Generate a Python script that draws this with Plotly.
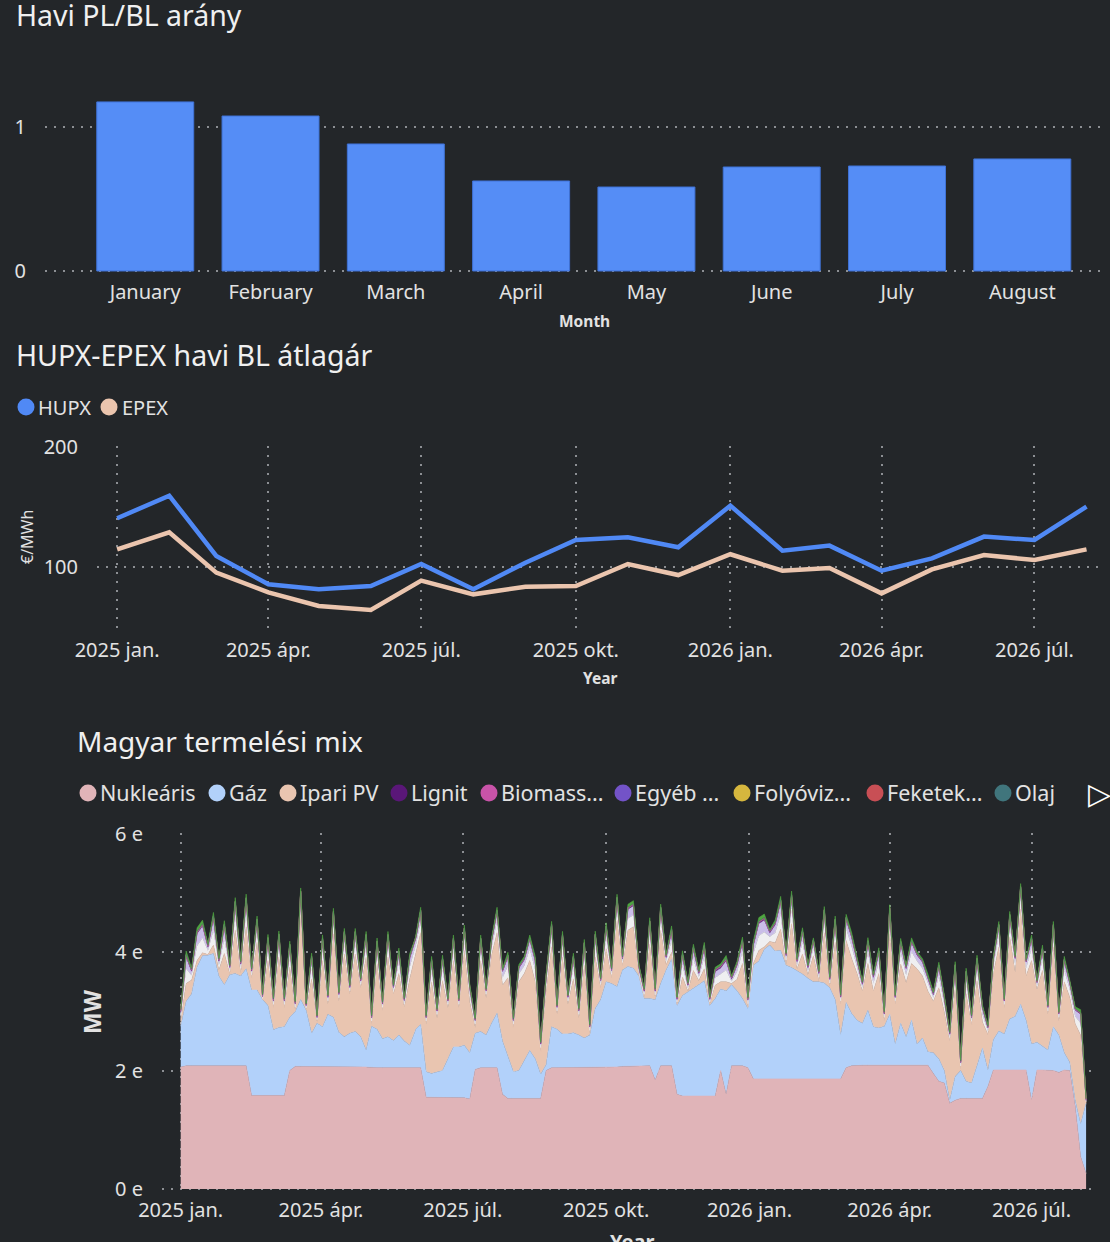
import pandas as pd
import plotly.graph_objects as go

W, H = 1110, 1242
BG = "#232629"
TXT = "#E2E2E2"
GRID = "#8C8F93"
FONT = "Noto Sans"

# --- Havi PL/BL arány ---
months = ["January", "February", "March", "April", "May", "June", "July", "August"]
pl_bl = [1.174, 1.076, 0.882, 0.625, 0.583, 0.722, 0.729, 0.778]

# --- HUPX-EPEX havi BL átlagár (EUR/MWh) ---
price_months = pd.date_range("2025-01-01", periods=20, freq="MS")
hupx = [140.6, 159.4, 109.2, 85.6, 81.4, 84.2, 102.5, 81.4, 103.6, 122.5,
        124.7, 116.4, 151.1, 113.6, 117.8, 96.9, 107.2, 125.3, 122.5, 150.3]
epex = [114.7, 128.9, 95.3, 78.9, 67.5, 64.2, 88.6, 77.2, 83.6, 84.2,
        102.5, 93.3, 110.6, 96.9, 99.2, 78.0, 98.0, 110.0, 105.8, 114.7]

tick_dates = ["2025-01-01", "2025-04-01", "2025-07-01", "2025-10-01",
              "2026-01-01", "2026-04-01", "2026-07-01"]
tick_text = ["2025 jan.", "2025 ápr.", "2025 júl.", "2025 okt.",
             "2026 jan.", "2026 ápr.", "2026 júl."]

# --- Magyar termelési mix (MW), read twice a week ---
mix_days = pd.date_range("2025-01-01", periods=167, freq="84h")
nuklearis = [
    2060, 2080, 2080, 2080, 2080, 2080, 2080, 2080, 2080, 2080,
    2080, 2080, 2080, 1580, 1580, 1580, 1580, 1580, 1580, 1580,
    2000, 2070, 2070, 2070, 2070, 2070, 2070, 2070, 2070, 2060,
    2060, 2060, 2060, 2060, 2060, 2050, 2050, 2050, 2050, 2050,
    2050, 2050, 2050, 2050, 2050, 1550, 1550, 1550, 1550, 1550,
    1540, 1540, 1540, 1520, 2020, 2050, 2050, 2050, 2050, 1600,
    1530, 1530, 1530, 1530, 1530, 1530, 1530, 2000, 2050, 2050,
    2050, 2050, 2050, 2050, 2050, 2050, 2050, 2060, 2060, 2060,
    2060, 2070, 2070, 2080, 2080, 2080, 2080, 1840, 2080, 2080,
    2080, 1600, 1570, 1570, 1570, 1570, 1570, 1570, 1570, 2000,
    1600, 2080, 2080, 2080, 2050, 1860, 1860, 1860, 1860, 1860,
    1860, 1860, 1860, 1860, 1860, 1860, 1860, 1860, 1860, 1860,
    1860, 1860, 2050, 2080, 2090, 2090, 2090, 2090, 2090, 2090,
    2090, 2090, 2090, 2090, 2090, 2090, 2090, 2090, 1950, 1820,
    1790, 1450, 1500, 1530, 1530, 1530, 1530, 1530, 1730, 2010,
    2010, 2010, 2010, 2010, 2010, 2010, 1500, 2010, 2010, 2010,
    2000, 1970, 2010, 2000, 1400, 550, 260]
gaz = [
    690, 1090, 1220, 1670, 1860, 1870, 1900, 1520, 1370, 1540,
    1560, 1520, 1640, 1780, 1780, 1620, 1520, 1110, 1150, 1160,
    900, 930, 1130, 950, 560, 730, 670, 880, 830, 590,
    510, 570, 600, 510, 290, 700, 650, 490, 520, 460,
    550, 450, 380, 640, 730, 430, 400, 430, 450, 650,
    860, 860, 890, 780, 610, 610, 550, 750, 920, 900,
    690, 450, 470, 640, 810, 670, 410, 100, 690, 650,
    570, 570, 590, 550, 500, 550, 1000, 1140, 1440, 1410,
    1360, 1630, 1690, 1650, 1520, 1140, 1140, 1360, 1390, 1620,
    1800, 1500, 1700, 1760, 1810, 1880, 1950, 1530, 1650, 1380,
    1750, 1370, 1270, 1140, 1000, 1920, 1990, 2190, 2260, 2160,
    2170, 1920, 1880, 1830, 1770, 1700, 1640, 1640, 1620, 1540,
    1340, 740, 1100, 890, 760, 710, 930, 650, 630, 660,
    860, 360, 710, 480, 760, 360, 460, 230, 350, 380,
    210, 50, 400, 470, 290, 260, 550, 850, 280, 510,
    660, 610, 860, 910, 1110, 840, 950, 470, 400, 340,
    740, 630, 290, 140, 100, 550, 1190]
ipari_pv = [
    90, 300, 230, 110, 50, 10, 140, 100, 530, 10,
    730, 50, 710, 200, 810, 0, 760, 370, 1190, 320,
    850, 10, 1450, 10, 920, 20, 1120, 170, 1410, 520,
    1400, 660, 1310, 830, 1570, 30, 1110, 470, 1350, 780,
    1040, 570, 1120, 1250, 1550, 800, 1550, 910, 1520, 860,
    1460, 660, 1600, 860, 100, 1200, 630, 1150, 1360, 940,
    1350, 750, 1500, 1470, 1520, 1300, 390, 1240, 1350, 250,
    1300, 500, 910, 290, 1230, 20, 870, 200, 560, 100,
    1120, 70, 610, 700, 20, 10, 920, 20, 900, 90,
    120, 20, 310, 10, 310, 70, 200, 20, 220, 120,
    150, 20, 190, 590, 20, 30, 180, 40, 60, 140,
    360, 10, 740, 30, 340, 60, 440, 20, 850, 20,
    970, 520, 1050, 930, 790, 540, 790, 600, 920, 90,
    1420, 670, 1000, 920, 960, 1270, 1050, 1020, 870, 1200,
    990, 1000, 1510, 20, 1480, 990, 1440, 440, 600, 1120,
    1420, 440, 1390, 740, 1610, 750, 1410, 890, 1280, 600,
    1350, 240, 1200, 1100, 1290, 1500, 0]
# thin layers on top whose legend entries are scrolled out of view
szel = [
    80, 250, 80, 250, 250, 70, 250, 80, 250, 60,
    250, 80, 250, 60, 200, 20, 200, 60, 200, 60,
    200, 60, 200, 30, 200, 40, 200, 60, 200, 60,
    200, 60, 200, 60, 200, 60, 200, 60, 200, 60,
    200, 60, 200, 130, 200, 60, 200, 60, 200, 60,
    200, 60, 200, 130, 60, 200, 60, 130, 200, 130,
    200, 60, 130, 130, 200, 200, 60, 130, 200, 60,
    200, 60, 200, 60, 200, 60, 200, 60, 200, 60,
    200, 60, 200, 200, 60, 60, 200, 60, 200, 60,
    200, 40, 200, 50, 200, 60, 200, 40, 130, 130,
    200, 40, 130, 200, 60, 170, 250, 250, 80, 170,
    250, 80, 250, 60, 200, 60, 130, 60, 200, 60,
    200, 60, 200, 200, 130, 60, 200, 130, 200, 60,
    200, 60, 200, 130, 200, 130, 130, 130, 60, 200,
    130, 60, 200, 60, 200, 60, 200, 130, 60, 130,
    200, 60, 200, 130, 200, 130, 200, 60, 200, 60,
    200, 60, 200, 130, 130, 200, 20]
lakossagi_pv = [
    60, 200, 60, 200, 200, 50, 200, 60, 200, 40,
    200, 60, 200, 50, 150, 20, 150, 50, 150, 50,
    150, 50, 150, 30, 150, 30, 150, 50, 150, 50,
    150, 50, 150, 50, 150, 50, 150, 50, 150, 50,
    150, 50, 150, 100, 150, 50, 150, 50, 150, 50,
    150, 50, 150, 100, 50, 150, 50, 100, 150, 100,
    150, 50, 100, 100, 150, 150, 50, 100, 150, 50,
    150, 50, 150, 50, 150, 50, 150, 50, 150, 50,
    150, 50, 150, 150, 50, 40, 150, 50, 150, 50,
    150, 30, 150, 40, 150, 50, 150, 30, 100, 100,
    150, 30, 100, 150, 50, 130, 200, 200, 60, 130,
    200, 60, 200, 50, 150, 50, 100, 50, 150, 50,
    150, 50, 150, 150, 100, 50, 150, 100, 150, 50,
    150, 50, 150, 100, 150, 100, 100, 100, 50, 150,
    100, 50, 150, 50, 150, 50, 150, 100, 50, 100,
    150, 50, 150, 100, 150, 100, 150, 50, 150, 50,
    150, 50, 150, 100, 100, 150, 20]
hulladek = [
    20, 60, 20, 60, 60, 20, 60, 20, 60, 20,
    60, 20, 60, 20, 50, 10, 50, 20, 50, 20,
    50, 20, 50, 10, 50, 10, 50, 20, 50, 20,
    50, 20, 50, 20, 50, 20, 50, 20, 50, 20,
    50, 20, 50, 30, 50, 20, 50, 20, 50, 20,
    50, 20, 50, 30, 20, 50, 20, 30, 50, 30,
    50, 20, 30, 30, 50, 50, 20, 30, 50, 20,
    50, 20, 50, 20, 50, 20, 50, 20, 50, 20,
    50, 20, 50, 50, 20, 20, 50, 20, 50, 20,
    50, 10, 50, 20, 50, 20, 50, 10, 30, 30,
    50, 10, 30, 50, 20, 40, 60, 60, 20, 40,
    60, 20, 60, 20, 50, 20, 30, 20, 50, 20,
    50, 20, 50, 50, 30, 20, 50, 30, 50, 20,
    50, 20, 50, 30, 50, 30, 30, 30, 20, 50,
    30, 20, 50, 20, 50, 20, 50, 30, 20, 30,
    50, 20, 50, 30, 50, 30, 50, 20, 50, 20,
    50, 20, 50, 30, 30, 50, 10]
# small sources, monthly
mix_months = pd.date_range("2025-01-01", periods=20, freq="MS")
lignit = [12, 14, 12, 8, 6, 6, 8, 8, 10, 12, 14, 16, 16, 14, 12, 8, 6, 6, 8, 8]
biomassza = [10, 10, 9, 8, 8, 7, 7, 7, 8, 9, 10, 10, 10, 10, 9, 8, 8, 7, 7, 7]
egyeb = [8, 8, 8, 7, 7, 7, 7, 7, 7, 8, 8, 8, 8, 8, 8, 7, 7, 7, 7, 7]
folyoviz = [5, 5, 6, 7, 7, 6, 5, 4, 4, 4, 5, 5, 5, 5, 6, 7, 7, 6, 5, 4]
feketekoszen = [4, 4, 3, 2, 2, 2, 2, 2, 2, 3, 4, 4, 4, 4, 3, 2, 2, 2, 2, 2]
olaj = [2, 2, 2, 1, 1, 1, 1, 1, 1, 2, 2, 2, 2, 2, 2, 1, 1, 1, 1, 1]

for s in (nuklearis, gaz, ipari_pv, szel, lakossagi_pv, hulladek):
    assert len(s) == len(mix_days), len(s)


def py(y):
    return 1 - y / H


fig = go.Figure()

fig.add_trace(go.Bar(x=months, y=pl_bl, marker=dict(color="#558DF6", line=dict(color="#3F72D6", width=1)),
                     xaxis="x", yaxis="y", showlegend=False))

fig.add_trace(go.Scatter(x=price_months, y=hupx, mode="lines", name="HUPX",
                         line=dict(color="#5089F5", width=4.5), xaxis="x2", yaxis="y2"))
fig.add_trace(go.Scatter(x=price_months, y=epex, mode="lines", name="EPEX",
                         line=dict(color="#EBC5AE", width=4.5), xaxis="x2", yaxis="y2"))

layers = [
    ("Nukleáris", mix_days, nuklearis, "#E0B4B8"),
    ("Gáz", mix_days, gaz, "#B2D1FA"),
    ("Ipari PV", mix_days, ipari_pv, "#E9C5B0"),
    ("Szél", mix_days, szel, "#EFEFF1"),
    ("Lakossági PV", mix_days, lakossagi_pv, "#C9BDE8"),
    ("Lignit", mix_months, lignit, "#5A1778"),
    ("Biomassza", mix_months, biomassza, "#C853A8"),
    ("Egyéb megújuló", mix_months, egyeb, "#7353C8"),
    ("Folyóvizes", mix_months, folyoviz, "#D6B73E"),
    ("Feketekőszén", mix_months, feketekoszen, "#C84F55"),
    ("Olaj", mix_months, olaj, "#40757C"),
    ("Hulladék", mix_days, hulladek, "#4FA63F"),
]
for i, (name, xs, ys, col) in enumerate(layers):
    fig.add_trace(go.Scatter(
        x=xs, y=ys, name=name, mode="lines", stackgroup="mix",
        stackgaps="interpolate" if i == 0 else None,
        line=dict(width=0.6, color=col), fillcolor=col,
        xaxis="x3", yaxis="y3", showlegend=False))

tickfont = dict(family=FONT, size=20, color=TXT)
grid = dict(showgrid=True, gridcolor=GRID, gridwidth=1.5, griddash="2px,7px", zeroline=False,
            automargin=False)
yticks = dict(ticks="outside", ticklen=14, tickcolor="rgba(0,0,0,0)", tickfont=tickfont)
xticks = dict(ticks="outside", ticklen=2, tickcolor="rgba(0,0,0,0)", tickfont=tickfont)

fig.update_layout(
    width=W, height=H,
    margin=dict(l=0, r=0, t=0, b=0, autoexpand=False),
    paper_bgcolor=BG, plot_bgcolor=BG,
    font=dict(family=FONT, color=TXT),
    showlegend=False,
    bargap=0.226,
    xaxis=dict(domain=[45 / W, 1105 / W], anchor="y", type="category", range=[-0.8, 7.66],
               showgrid=False, zeroline=False, automargin=False, **xticks),
    yaxis=dict(domain=[py(272), py(94)], anchor="x", range=[-0.007, 1.229],
               tickvals=[0, 1], **grid, **yticks),
    xaxis2=dict(domain=[97 / W, 1105 / W], anchor="y2", type="date",
                range=["2024-12-20", "2026-08-12"], tickvals=tick_dates, ticktext=tick_text,
                **grid, **xticks),
    yaxis2=dict(domain=[py(630), py(446)], anchor="x2", range=[47.5, 200.8],
                tickvals=[100, 200], **grid, **yticks),
    xaxis3=dict(domain=[162 / W, 1097 / W], anchor="y3", type="date",
                range=["2024-12-20", "2026-08-12"], tickvals=tick_dates, ticktext=tick_text,
                **grid, **xticks),
    yaxis3=dict(domain=[py(1190), py(833)], anchor="x3", range=[-17, 6014],
                tickvals=[0, 2000, 4000, 6000], ticktext=["0 e", "2 e", "4 e", "6 e"],
                **grid, **yticks),
)

ann = []


def label(text, x, y, size, anchor="left", bold=False, angle=0, color="#F0F0F0"):
    ann.append(dict(text=text, x=x / W, y=py(y), xref="paper", yref="paper",
                    xanchor=anchor, yanchor="middle", showarrow=False, textangle=angle,
                    font=dict(family=FONT, size=size, color=color,
                              weight="bold" if bold else "normal")))


label("Havi PL/BL arány", 14, 15, 28.5)
label("HUPX-EPEX havi BL átlagár", 14, 355, 28.5)
label("Magyar termelési mix", 75, 741, 28)
label("Month", 585, 321, 15.5, anchor="center", bold=True, color=TXT)
label("Year", 600, 678, 15.5, anchor="center", bold=True, color=TXT)
label("Year", 632, 1241, 20, anchor="center", bold=True, color=TXT)
label("€/MWh", 27, 537, 16, anchor="center", angle=-90, color=TXT)
label("MW", 92, 1012, 23, anchor="center", bold=True, angle=-90, color=TXT)

shapes = []


def dot(cx, cy, r, col):
    shapes.append(dict(type="circle", xref="paper", yref="paper", line=dict(width=0),
                       fillcolor=col, x0=(cx - r) / W, x1=(cx + r) / W,
                       y0=py(cy + r), y1=py(cy - r)))


# legend: HUPX / EPEX
for name, cx, tx, col in [("HUPX", 26, 38, "#5089F5"), ("EPEX", 109, 122, "#EBC5AE")]:
    dot(cx, 407, 8.5, col)
    label(name, tx - 2, 407, 20, color=TXT)

# legend: production mix (first page)
legend3 = [
    ("Nukleáris", 88, "#E0B4B8"), ("Gáz", 217, "#B2D1FA"), ("Ipari PV", 288, "#E9C5B0"),
    ("Lignit", 399, "#5A1778"), ("Biomass...", 489, "#C853A8"), ("Egyéb ...", 623, "#7353C8"),
    ("Folyóviz...", 742, "#D6B73E"), ("Feketek...", 875, "#C84F55"), ("Olaj", 1003, "#40757C"),
]
for name, cx, col in legend3:
    dot(cx, 793, 8.5, col)
    label(name, cx + 10, 793, 21.5, color=TXT)
label("▷", 1099, 793, 30, anchor="center", color="#FFFFFF")

fig.update_layout(annotations=ann, shapes=shapes)
fig.write_html("out.html", config={"displayModeBar": False},
               post_script="document.body.style.margin='0';")
